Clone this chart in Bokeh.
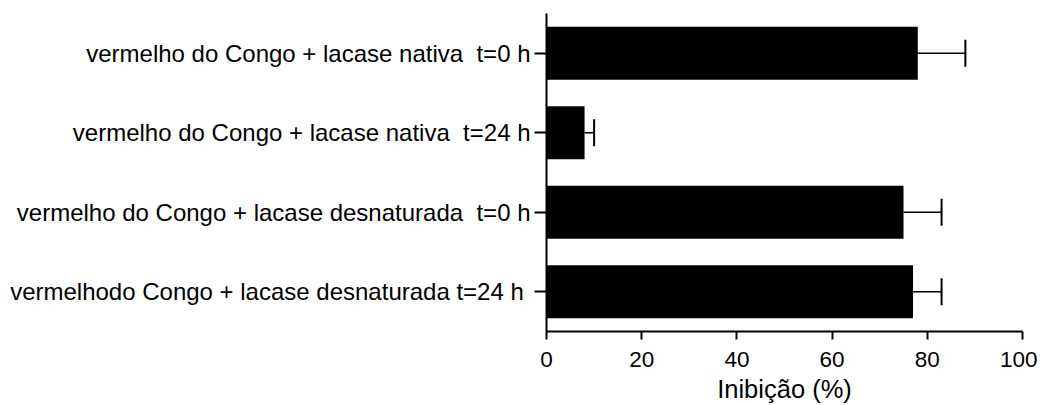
from bokeh.plotting import figure
from bokeh.models import ColumnDataSource, Whisker, TeeHead, FactorRange
from bokeh.embed import file_html
from bokeh.resources import INLINE

categories = [
    "vermelho do Congo + lacase nativa\u00a0 t=0 h",
    "vermelho do Congo + lacase nativa\u00a0 t=24 h",
    "vermelho do Congo + lacase desnaturada\u00a0 t=0 h",
    "vermelhodo Congo + lacase desnaturada t=24 h\u00a0",
]
values = [78, 8, 75, 77]
errors = [10, 2, 8, 6]
x_ticks = [0, 20, 40, 60, 80, 100]

FONT = "Liberation Sans"

src = ColumnDataSource(dict(
    cat=categories,
    val=values,
    upper=[v + e for v, e in zip(values, errors)],
))

p = figure(
    width=1037, height=405,
    y_range=FactorRange(*reversed(categories), range_padding=0),
    x_range=(0, 100),
    output_backend="svg", toolbar_location=None,
    min_border_left=546, min_border_right=15, min_border_top=13, min_border_bottom=74,
)
p.outline_line_color = None
p.grid.visible = False

p.hbar(y="cat", left=0, right="val", height=0.665, source=src,
       fill_color="black", line_color=None)

w = Whisker(base="cat", lower="val", upper="upper", dimension="width", source=src,
            line_color="black", line_width=1.5,
            upper_head=TeeHead(size=27, line_color="black", line_width=2),
            lower_head=None)
p.add_layout(w)

for ax in (p.xaxis, p.yaxis):
    ax.axis_line_width = 2
    ax.major_tick_line_width = 2
    ax.major_tick_in = 0
    ax.minor_tick_line_color = None
    ax.major_label_text_font = FONT
    ax.major_label_text_color = "black"
    ax.axis_line_color = "black"
    ax.major_tick_line_color = "black"

p.xaxis.major_tick_out = 8
p.yaxis.major_tick_out = 12
p.yaxis.major_label_text_font_size = "24px"
p.xaxis.major_label_text_font_size = "22.5px"

p.xaxis.ticker = x_ticks
p.xaxis.axis_label = "Inibição (%)"
p.xaxis.axis_label_text_font = FONT
p.xaxis.axis_label_text_font_size = "25.5px"
p.xaxis.axis_label_text_font_style = "normal"
p.xaxis.axis_label_text_color = "black"
p.xaxis.major_label_standoff = 12
p.xaxis.axis_label_standoff = 5
p.yaxis.major_label_standoff = 4

open("out.html", "w").write(file_html(p, INLINE))
